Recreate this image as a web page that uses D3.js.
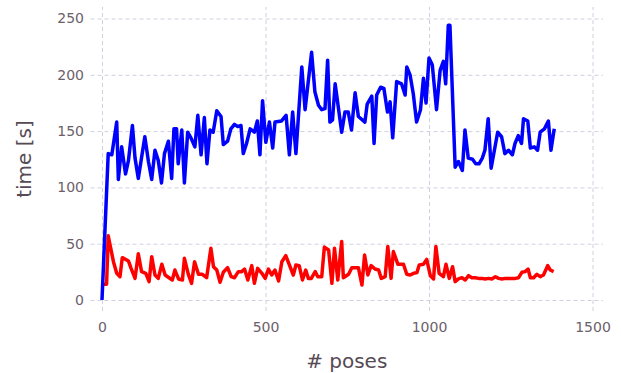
<!DOCTYPE html>
<html>
<head>
<meta charset="utf-8">
<script src="https://cdn.jsdelivr.net/npm/d3@7"></script>
<style>
  body { margin: 0; background: #fff; }
  svg { display: block; font-family: "DejaVu Sans", sans-serif; }
</style>
</head>
<body>
<div id="chart"></div>
<script>
// values
var bluePoses = [0, 19, 30, 45, 50, 60, 72, 81, 93, 101, 111, 131, 142, 152, 162, 172, 182, 191, 203, 213,
  220, 228, 233, 244, 252, 262, 272, 284, 293, 303, 313, 321, 330, 340, 351, 364, 371, 384, 394, 405,
  415, 425, 432, 442, 453, 466, 475, 483, 491, 501, 512, 522, 529, 549, 563, 573, 583, 593, 611, 621,
  641, 651, 662, 672, 682, 690, 697, 705, 713, 733, 743, 753, 763, 774, 784, 804, 811, 825, 832, 840,
  852, 862, 873, 881, 889, 901, 916, 927, 932, 942, 952, 962, 974, 983, 991, 1000, 1010, 1023, 1034, 1044,
  1051, 1059, 1064, 1080, 1090, 1102, 1110, 1120, 1133, 1143, 1153, 1163, 1171, 1181, 1190, 1210, 1222, 1232, 1243, 1255,
  1263, 1273, 1283, 1289, 1302, 1310, 1322, 1332, 1340, 1353, 1365, 1373, 1383];
var blueTimes = [0, 130, 129, 158, 107, 136, 112, 124, 155, 126, 108, 145, 123, 107, 133, 124, 104, 130, 141, 108,
  152, 152, 121, 151, 104, 149, 144, 136, 164, 129, 162, 121, 151, 149, 168, 163, 138, 141, 152, 156,
  154, 155, 130, 139, 152, 149, 159, 129, 177, 140, 158, 135, 158, 159, 164, 129, 167, 130, 207, 169,
  220, 185, 173, 169, 170, 213, 158, 160, 192, 149, 167, 167, 151, 184, 163, 158, 174, 181, 139, 182,
  189, 188, 167, 176, 144, 194, 192, 182, 207, 200, 183, 158, 169, 197, 175, 215, 209, 169, 204, 212,
  192, 244, 244, 118, 123, 115, 151, 126, 125, 121, 121, 126, 133, 161, 117, 149, 145, 130, 133, 129,
  139, 146, 139, 161, 159, 135, 136, 133, 149, 152, 159, 133, 152];

var redPoses = [0, 14, 19, 35, 45, 55, 62, 81, 89, 101, 111, 121, 134, 144, 152, 162, 172, 183, 193, 205,
  215, 223, 234, 246, 252, 264, 274, 283, 295, 307, 320, 333, 341, 351, 361, 371, 384, 395, 405, 417,
  427, 436, 446, 458, 466, 476, 489, 499, 509, 519, 529, 540, 550, 562, 573, 585, 593, 603, 613, 623,
  631, 640, 652, 660, 672, 680, 693, 703, 711, 721, 733, 738, 754, 764, 784, 795, 803, 813, 823, 835,
  846, 854, 866, 874, 884, 891, 905, 922, 932, 942, 953, 963, 970, 983, 993, 1004, 1014, 1021, 1031, 1044,
  1052, 1062, 1072, 1080, 1090, 1101, 1111, 1121, 1131, 1141, 1152, 1162, 1172, 1182, 1192, 1203, 1213, 1223, 1233, 1243,
  1254, 1264, 1274, 1284, 1294, 1303, 1310, 1320, 1330, 1340, 1350, 1363, 1371, 1381];
var redTimes = [14, 14, 57, 34, 23.7, 20.7, 37.6, 34.6, 28.1, 19.2, 41, 25.2, 23.7, 16.3, 38.5, 22.2, 19.2, 31.7, 22.2, 19.8,
  17.8, 26.6, 18.7, 17.8, 37, 22.8, 14.8, 34, 22.8, 22.8, 19.8, 46, 29.6, 26.6, 15.7, 24.6, 28.7, 20.7, 19.8, 25.2,
  25.2, 27.5, 17.8, 30.5, 14.8, 28.1, 23.7, 19.2, 27.5, 22.2, 26.6, 16.9, 34, 39.4, 31.1, 22.2, 31.1, 30.5, 17.8, 26.6,
  19.2, 19.2, 25.2, 20.7, 20.7, 47, 44.4, 14.8, 46, 17.8, 52, 19.8, 22.8, 28.7, 28.7, 13.3, 40, 22.2, 30.5, 27.5,
  26.6, 19.2, 20.7, 47.5, 19.2, 43, 31.7, 31.7, 22.8, 22.2, 23.7, 24.3, 31.1, 31.7, 36, 21.6, 18.7, 47.5, 23.7, 20.7,
  31.7, 19.2, 29.6, 16.3, 18.7, 19.8, 17.8, 21.6, 19.8, 19.8, 19.2, 19.2, 18.7, 19.2, 18.7, 20.7, 19.2, 18.7, 19.2, 19.2,
  19.2, 19.2, 19.8, 24.6, 25.2, 27.5, 19.8, 19.8, 22.8, 20.7, 22.2, 30.5, 26.6, 25.2];

var xTicks = [0, 500, 1000, 1500];
var yTicks = [0, 50, 100, 150, 200, 250];

function go() {
    var width = 621, height = 373;
    var panel = { left: 90.5, right: 603, top: 7, bottom: 311 };

    var svg = d3.select("#chart").append("svg")
        .attr("width", width)
        .attr("height", height);

    var x = d3.scaleLinear().domain([0, 1500]).range([102, 592.5]);
    var y = d3.scaleLinear().domain([0, 250]).range([300, 18.5]);

    var gx = svg.append("g")
        .attr("transform", "translate(0," + panel.bottom + ")")
        .call(d3.axisBottom(x).tickValues(xTicks).tickFormat(d3.format("d"))
            .tickSize(-(panel.bottom - panel.top)).tickPadding(11.5));

    var gy = svg.append("g")
        .attr("transform", "translate(" + panel.left + ",0)")
        .call(d3.axisLeft(y).tickValues(yTicks).tickFormat(d3.format("d"))
            .tickSize(-(panel.right - panel.left)).tickPadding(6.5));

    [gx, gy].forEach(function (g) {
        g.select(".domain").remove();
        g.selectAll(".tick line")
            .attr("stroke", "#d0d0e0")
            .attr("stroke-width", 1)
            .attr("stroke-dasharray", "4,3");
        g.selectAll(".tick text")
            .attr("fill", "#6c606b")
            .style("font-size", "14px")
            .style("font-family", "DejaVu Sans, sans-serif");
    });

    var line = d3.line()
        .x(function (d) { return x(d[0]); })
        .y(function (d) { return y(d[1]); });

    var red = d3.zip(redPoses, redTimes);
    var blue = d3.zip(bluePoses, blueTimes);

    svg.append("path")
        .datum(red)
        .attr("d", line)
        .attr("fill", "none")
        .attr("stroke", "#ff0000")
        .attr("stroke-width", 3.5)
        .attr("stroke-linejoin", "round");

    svg.append("path")
        .datum(blue)
        .attr("d", line)
        .attr("fill", "none")
        .attr("stroke", "#0000ff")
        .attr("stroke-width", 3.5)
        .attr("stroke-linejoin", "round");

    svg.append("text")
        .attr("x", (panel.left + panel.right) / 2)
        .attr("y", 368)
        .attr("text-anchor", "middle")
        .attr("fill", "#564a55")
        .style("font-size", "20px")
        .text("# poses");

    svg.append("text")
        .attr("transform", "translate(31," + (panel.top + panel.bottom) / 2 + ") rotate(-90)")
        .attr("text-anchor", "middle")
        .attr("fill", "#564a55")
        .style("font-size", "20px")
        .text("time [s]");
}

document.addEventListener("DOMContentLoaded", function () {
    go();
});
</script>
</body>
</html>
